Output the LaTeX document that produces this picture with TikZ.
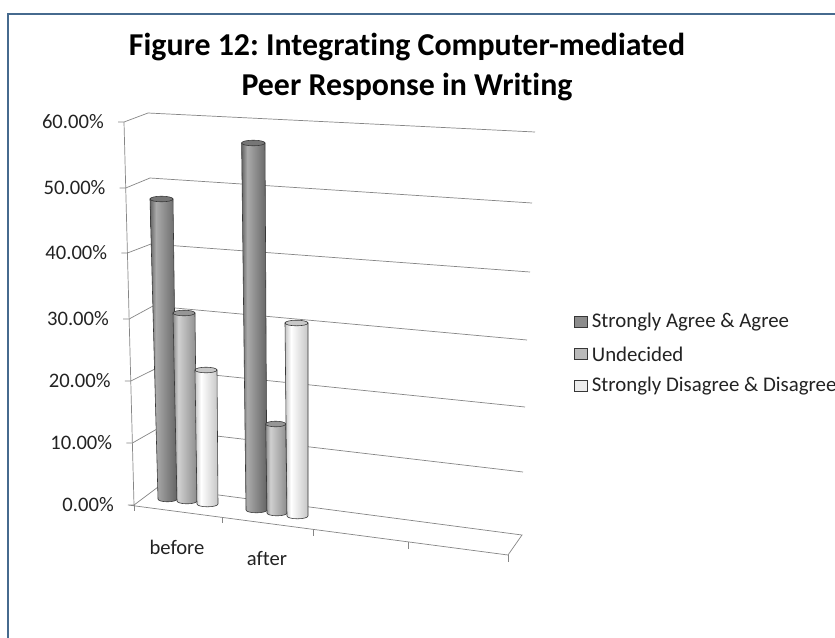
\documentclass[tikz,border=0pt]{standalone}
\usepackage{fontspec}
\setmainfont{Carlito}[Ligatures=NoCommon]
\frenchspacing
\usetikzlibrary{positioning}

\definecolor{frameblue}{RGB}{70,106,142}
\definecolor{gridgray}{RGB}{134,134,134}
\definecolor{labelgray}{RGB}{35,35,35}
\definecolor{cyledge}{RGB}{55,55,55}
\definecolor{agreelo}{RGB}{100,100,100}
\definecolor{agreehi}{RGB}{170,170,170}
\definecolor{agreetop}{RGB}{118,118,118}
\definecolor{undeclo}{RGB}{140,140,140}
\definecolor{undechi}{RGB}{208,208,208}
\definecolor{undectop}{RGB}{150,150,150}
\definecolor{disaglo}{RGB}{198,198,198}
\definecolor{disaghi}{RGB}{255,255,255}
\definecolor{disagtop}{RGB}{200,200,200}
\definecolor{agreekey}{RGB}{140,140,140}
\definecolor{undeckey}{RGB}{186,186,186}
\definecolor{disagkey}{RGB}{236,236,236}

\pgfdeclarehorizontalshading{agreecyl}{100bp}{color(0bp)=(agreelo); color(25bp)=(agreelo); color(36bp)=(agreehi); color(75bp)=(agreelo); color(100bp)=(agreelo)}
\pgfdeclarehorizontalshading{undeccyl}{100bp}{color(0bp)=(undeclo); color(25bp)=(undeclo); color(36bp)=(undechi); color(75bp)=(undeclo); color(100bp)=(undeclo)}
\pgfdeclarehorizontalshading{disagcyl}{100bp}{color(0bp)=(disaglo); color(25bp)=(disaglo); color(38bp)=(disaghi); color(75bp)=(disaglo); color(100bp)=(disaglo)}

% #1 shading, #2 top colour, #3-#5 top x, radius, y, #6-#8 bottom x, radius, y
\newcommand{\colcyl}[8]{%
  \shadedraw[shading=#1, draw=cyledge, line width=0.5pt]
    ({#3-#4},#5) -- ({#6-#7},#8) arc[start angle=180, end angle=0, x radius=#7, y radius=2.8]
    -- ({#3+#4},#5) -- cycle;
  \draw[cyledge, line width=0.5pt, fill=#2] (#3,#5) ellipse[x radius=#4, y radius=2.8];
}

\begin{document}
\begin{tikzpicture}[x=0.03cm, y=-0.03cm,
    gridln/.style={gridgray, line width=0.6pt},
    ylbl/.style={anchor=east, font=\fontsize{17.6}{20}\selectfont, labelgray, inner sep=0pt},
    catlbl/.style={font=\fontsize{17.6}{20}\selectfont, labelgray, inner sep=0pt},
    legsq/.style={draw=cyledge, line width=0.5pt, minimum width=0.38cm, minimum height=0.34cm, inner sep=0pt},
    legtxt/.style={font=\fontsize{17.8}{20}\selectfont, labelgray, inner sep=0pt},
    ttl/.style={font=\fontsize{27.2}{32}\selectfont\bfseries, anchor=base, inner sep=0pt}
  ]
    \fill[white] (0,0) rectangle (835,637);
    \useasboundingbox (0,0) rectangle (835,637);
    \draw[frameblue, line width=1.4pt] (8,640) -- (8,14) -- (838,14);

    \node[ttl] (ttl1) at (407,55) {Figure 12: Integrating Computer-mediated};
    \node[ttl] (ttl2) at (407,95) {Peer Response in Writing};

    \draw[gridln] (118,122) -- (124,122) -- (148,113) -- (535,132);
    \draw[gridln] (119.7,188) -- (125.7,188) -- (150,178) -- (532,203);
    \draw[gridln] (121.4,253) -- (127.4,253) -- (151,244) -- (530,272);
    \draw[gridln] (123.1,319) -- (129.1,319) -- (153,306) -- (527,340);
    \draw[gridln] (124.8,381) -- (130.8,381) -- (155,369) -- (525,407);
    \draw[gridln] (126.4,443) -- (132.4,443) -- (157,429) -- (523,472);
    \draw[gridln] (128,505) -- (134,505) -- (158,487) -- (522,535) -- (508,555) -- cycle;
    \draw[gridln] (124,122) -- (134,505);
    \draw[gridln] (134,505) -- (134,511);
    \draw[gridln] (222,517) -- (222,523);
    \draw[gridln] (313,529) -- (313,536);
    \draw[gridln] (408,542) -- (408,549);
    \draw[gridln] (508,555) -- (508,562);

    \node[ylbl] (l6) at (104,122) {60.00\%};
    \node[ylbl] (l5) at (105.7,188) {50.00\%};
    \node[ylbl] (l4) at (107.4,253) {40.00\%};
    \node[ylbl] (l3) at (109.1,319) {30.00\%};
    \node[ylbl] (l2) at (110.8,381) {20.00\%};
    \node[ylbl] (l1) at (112.4,443) {10.00\%};
    \node[ylbl] (l0) at (114,505) {0.00\%};

    \node[catlbl] (before) at (177,547) {before};
    \node[catlbl] (after) at (267,558) {after};

    \colcyl{agreecyl}{agreetop}{161.5}{11.5}{199}{167.5}{9.5}{499}
    \colcyl{undeccyl}{undectop}{184}{11}{313}{187}{10}{501}
    \colcyl{disagcyl}{disagtop}{206}{11}{370}{207.5}{10.5}{504}
    \colcyl{agreecyl}{agreetop}{253.3}{11.7}{143}{256.5}{10.5}{510}
    \colcyl{undeccyl}{undectop}{275.7}{10}{424}{277}{10}{513}
    \colcyl{disagcyl}{disagtop}{296.5}{11.5}{323}{297.5}{10.5}{516}

    \node[legsq, fill=agreekey] (ksa) at (581,322) {};
    \node[legsq, fill=undeckey] (kun) at (581,354) {};
    \node[legsq, fill=disagkey] (ksd) at (581,386) {};
    \node[legtxt, right=0.12cm of ksa] (tsa) {Strongly Agree \& Agree};
    \node[legtxt, right=0.12cm of kun] (tun) {Undecided};
    \node[legtxt, right=0.12cm of ksd] (tsd) {Strongly Disagree \& Disagree};
\end{tikzpicture}
\end{document}
